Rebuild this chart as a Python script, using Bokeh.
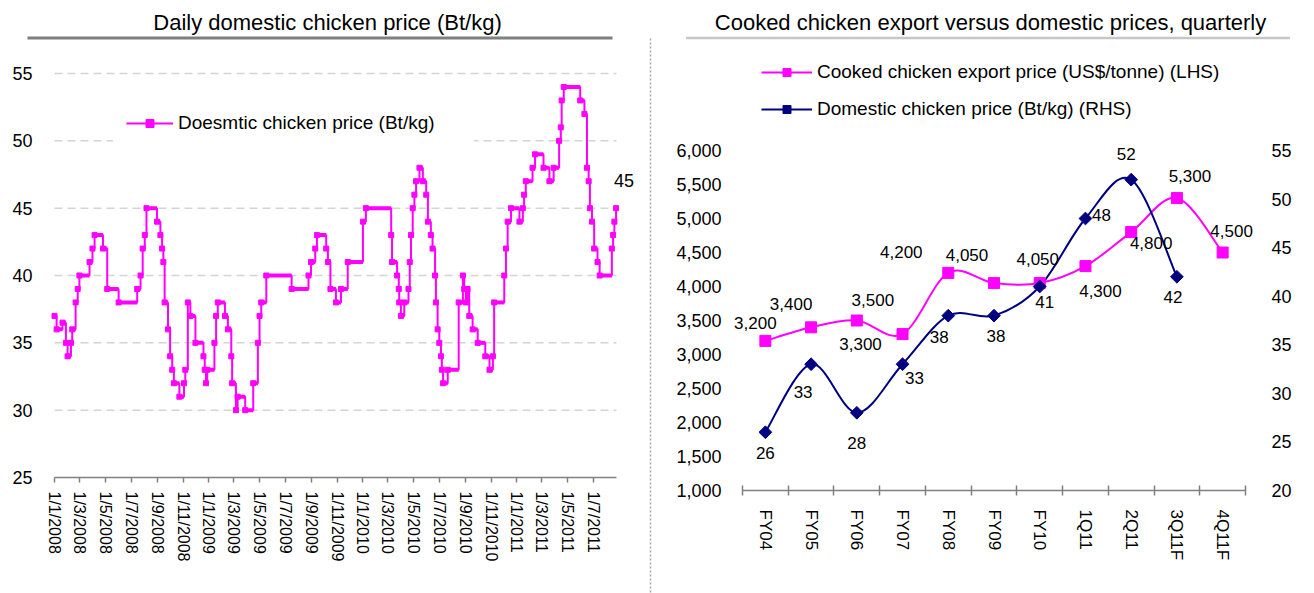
import math
import pandas as pd
from bokeh.plotting import figure
from bokeh.layouts import row
from bokeh.models import (Range1d, LinearAxis, FixedTicker, Legend, LegendItem, Label,
                          LabelSet, Arrow, ColumnDataSource, NumeralTickFormatter)
from bokeh.core.properties import value
from bokeh.embed import file_html
from bokeh.resources import INLINE

FONT = "Liberation Sans"
MAGENTA = "#FF00FF"
NAVY = "#000080"
AXIS_GREY = "#808080"

# ---------------- data: daily domestic chicken price (change points) ----------------
daily_dates = [
    "2008-01-01", "2008-01-06", "2008-01-20", "2008-01-28", "2008-02-01", "2008-02-09", "2008-02-12",
    "2008-02-20", "2008-02-25", "2008-02-29", "2008-03-24", "2008-03-31", "2008-04-05", "2008-04-25",
    "2008-05-05", "2008-06-01", "2008-07-15", "2008-07-23", "2008-07-28", "2008-08-02", "2008-08-06",
    "2008-08-31", "2008-09-08", "2008-09-12", "2008-09-15", "2008-09-18", "2008-09-26", "2008-10-01",
    "2008-10-06", "2008-10-10", "2008-10-23", "2008-11-03", "2008-11-06", "2008-11-12", "2008-11-18",
    "2008-11-30", "2008-12-19", "2008-12-22", "2008-12-25", "2008-12-28", "2009-01-14", "2009-01-18",
    "2009-01-22", "2009-02-08", "2009-02-15", "2009-02-23", "2009-02-25", "2009-03-06", "2009-03-10",
    "2009-03-28", "2009-04-16", "2009-04-27", "2009-05-01", "2009-05-05", "2009-05-17", "2009-07-16",
    "2009-08-25", "2009-08-31", "2009-09-10", "2009-09-14", "2009-10-06", "2009-10-10", "2009-10-16",
    "2009-10-29", "2009-11-10", "2009-11-26", "2010-01-01", "2010-01-08", "2010-03-09", "2010-03-11",
    "2010-03-23", "2010-03-27", "2010-03-28", "2010-04-01", "2010-04-09", "2010-04-19", "2010-04-22",
    "2010-04-25", "2010-04-29", "2010-05-03", "2010-05-07", "2010-05-15", "2010-05-23", "2010-05-31",
    "2010-06-04", "2010-06-11", "2010-06-15", "2010-06-21", "2010-06-23", "2010-06-27", "2010-07-01",
    "2010-07-05", "2010-07-07", "2010-07-10", "2010-07-21", "2010-08-16", "2010-08-26", "2010-08-29",
    "2010-09-02", "2010-09-06", "2010-09-10", "2010-09-18", "2010-09-30", "2010-10-18", "2010-10-28",
    "2010-11-05", "2010-11-08", "2010-12-02", "2010-12-06", "2010-12-10", "2010-12-18", "2011-01-07",
    "2011-01-15", "2011-01-18", "2011-01-22", "2011-02-07", "2011-02-13", "2011-03-05", "2011-03-19",
    "2011-03-29", "2011-04-11", "2011-04-15", "2011-04-17", "2011-04-22", "2011-05-31", "2011-06-10",
    "2011-06-16", "2011-06-20", "2011-06-23", "2011-06-28", "2011-07-03", "2011-07-11", "2011-07-16",
    "2011-08-14", "2011-08-17", "2011-08-20", "2011-08-24",
]
daily_prices = [
    37, 36, 36.5, 35, 34, 35, 36,
    38, 39, 40, 41, 42, 43, 42,
    39, 38, 39, 40, 42, 43, 45,
    44, 43, 42, 41, 38, 36, 34,
    33, 32, 31, 32, 33, 38, 37,
    35, 34, 33, 32, 33, 35, 37,
    38, 37, 36, 34, 32, 30, 31,
    30, 32, 35, 37, 38, 40, 39,
    40, 41, 42, 43, 42, 41, 39,
    38, 39, 41, 44, 45, 43, 41,
    40, 39, 38, 37, 38, 39, 41,
    43, 45, 46, 47, 48, 47, 46,
    44, 43, 42, 40, 38, 36, 35,
    34, 33, 32, 33, 38, 40, 39,
    38, 39, 37, 36, 35, 34, 33,
    34, 38, 40, 42, 44, 45, 44,
    45, 46, 47, 48, 49, 48, 47,
    48, 50, 51, 53, 54, 53, 52,
    48, 47, 45, 44, 42, 41, 40,
    42, 43, 44, 45,
]
daily_tick_dates = [
    "2008-01-01", "2008-03-01", "2008-05-01", "2008-07-01", "2008-09-01", "2008-11-01",
    "2009-01-01", "2009-03-01", "2009-05-01", "2009-07-01", "2009-09-01", "2009-11-01",
    "2010-01-01", "2010-03-01", "2010-05-01", "2010-07-01", "2010-09-01", "2010-11-01",
    "2011-01-01", "2011-03-01", "2011-05-01", "2011-07-01",
]
daily_axis_end = "2011-08-25"
daily_y_ticks = [25, 30, 35, 40, 45, 50, 55]

# ---------------- data: quarterly export vs domestic ----------------
quarter_labels = ["FY04", "FY05", "FY06", "FY07", "FY08", "FY09", "FY10", "1Q11", "2Q11", "3Q11F", "4Q11F"]
export_price = [3200, 3400, 3500, 3300, 4200, 4050, 4050, 4300, 4800, 5300, 4500]
domestic_price = [26, 33, 28, 33, 38, 38, 41, 48, 52, 42]
lhs_ticks = [1000, 1500, 2000, 2500, 3000, 3500, 4000, 4500, 5000, 5500, 6000]
rhs_ticks = [20, 25, 30, 35, 40, 45, 50, 55]

# label placement offsets (screen px: dx right, dy up)
export_label_dx = [-10, -20, 16, -42, -47, -27, -2, 15, 20, 13, 9]
export_label_dy = [18, 23, 21, -10, 21, 28, 24, -25, -11, 22, 22]
domestic_label_dx = [0, -8, 0, 12, -9, 2, 5, 16, -5, -4]
domestic_label_dy = [-21, -28, -30, -14, -21, -20, -15, 4, 26, -20]

# ---------------- page layout (pixels) ----------------
PAGE_H = 593
W1 = 652
W2 = 662
F1_LEFT, F1_RIGHT, F1_TOP, F1_BOTTOM = 54, 616, 73, 477
F2_LEFT, F2_RIGHT, F2_TOP, F2_BOTTOM = 742, 1245, 150, 490


def bare_figure(width, x_range, y_range):
    p = figure(width=width, height=PAGE_H, output_backend="svg", toolbar_location=None,
               x_range=x_range, y_range=y_range, min_border=0)
    p.title.visible = False
    p.outline_line_color = None
    p.background_fill_color = "white"
    p.border_fill_color = "white"
    p.grid.visible = False
    return p

# =============== LEFT FIGURE ===============
origin = pd.Timestamp("2008-01-01")
days = [int(v) for v in (pd.to_datetime(daily_dates) - origin).days]
tick_ts = pd.to_datetime(daily_tick_dates)
tick_days = [int(v) for v in (tick_ts - origin).days]
tick_text = {d: f"{t.day}/{t.month}/{t.year}" for d, t in zip(tick_days, tick_ts)}
x_end1 = float((pd.Timestamp(daily_axis_end) - origin).days)
ymin1, ymax1 = daily_y_ticks[0], daily_y_ticks[-1]

ppd = (F1_RIGHT - F1_LEFT) / x_end1
ppu1 = (F1_BOTTOM - F1_TOP) / (ymax1 - ymin1)

def dx1(px):
    return (px - F1_LEFT) / ppd

def dy1(py):
    return ymax1 - (py - F1_TOP) / ppu1

p1 = bare_figure(W1, Range1d(dx1(0), dx1(W1)), Range1d(dy1(PAGE_H), dy1(0)))

grid_vals = daily_y_ticks[1:]
p1.segment(x0=[0] * len(grid_vals), x1=[x_end1] * len(grid_vals), y0=grid_vals, y1=grid_vals,
           line_color="#D4D4D4", line_width=1.5, line_dash="8 5")

ya = p1.yaxis[0]
ya.fixed_location = 0
ya.ticker = FixedTicker(ticks=daily_y_ticks)
ya.axis_line_color = None
ya.major_tick_line_color = None
ya.minor_tick_line_color = None
ya.major_label_text_font = FONT
ya.major_label_text_font_size = "18px"
ya.major_label_text_color = "black"
ya.major_label_standoff = 16

xa = p1.xaxis[0]
xa.fixed_location = ymin1
xa.bounds = (0, x_end1)
xa.ticker = FixedTicker(ticks=tick_days)
xa.major_label_overrides = tick_text
xa.major_label_orientation = "vertical"
xa.axis_line_color = AXIS_GREY
xa.axis_line_width = 1.5
xa.major_tick_line_color = AXIS_GREY
xa.major_tick_line_width = 1.5
xa.major_tick_out = 5
xa.major_tick_in = 0
xa.minor_tick_line_color = None
xa.major_label_text_font = FONT
xa.major_label_text_font_size = "16px"
xa.major_label_text_color = "black"
xa.major_label_standoff = 9

p1.segment(x0=days[:-1], y0=daily_prices[:-1], x1=days[1:], y1=daily_prices[:-1],
           line_color=MAGENTA, line_width=4)
step_r = p1.step(days, daily_prices, mode="after", line_color=MAGENTA, line_width=2)
sc1 = p1.scatter(days, daily_prices, marker="square", size=5, color=MAGENTA)

leg1 = Legend(items=[LegendItem(label="Doesmtic chicken price (Bt/kg)", renderers=[step_r, sc1])],
              location=(113, PAGE_H - 147), padding=12, spacing=0, margin=0,
              glyph_width=47, glyph_height=20, label_height=20, label_width=283, label_standoff=5,
              label_text_font=FONT, label_text_font_size="19px", label_text_color="black",
              background_fill_color="white", background_fill_alpha=1.0,
              border_line_color="white", border_line_width=1)
p1.add_layout(leg1)

p1.add_layout(Label(x=days[-1], y=daily_prices[-1], text=f"{daily_prices[-1]:g}", x_offset=8, y_offset=28,
                    text_align="center", text_baseline="middle", text_font=FONT,
                    text_font_size="18px", text_color="black"))

p1.add_layout(Label(x=dx1(327), y=dy1(22), text="Daily domestic chicken price (Bt/kg)",
                    text_align="center", text_baseline="middle", text_font=FONT,
                    text_font_size="22px", text_color="black"))
p1.add_layout(Arrow(start=None, end=None, x_start=dx1(27), y_start=dy1(37.5), x_end=dx1(612), y_end=dy1(37.5),
                    line_color="#7F7F7F", line_width=3))
p1.add_layout(Arrow(start=None, end=None, x_start=dx1(650), y_start=dy1(38), x_end=dx1(650), y_end=dy1(PAGE_H),
                    line_color="#A6A6A6", line_width=1.5, line_dash="2 2"))

# =============== RIGHT FIGURE ===============
X2_0 = W1
ncat = len(quarter_labels)
ppc = (F2_RIGHT - F2_LEFT) / ncat
ppl = (F2_BOTTOM - F2_TOP) / (lhs_ticks[-1] - lhs_ticks[0])
ppr = (F2_BOTTOM - F2_TOP) / (rhs_ticks[-1] - rhs_ticks[0])

def dx2(px):
    return 0.5 + (px - F2_LEFT) / ppc

def dy2(py):
    return lhs_ticks[-1] - (py - F2_TOP) / ppl

def dyr(py):
    return rhs_ticks[-1] - (py - F2_TOP) / ppr

p2 = bare_figure(W2, Range1d(dx2(X2_0), dx2(X2_0 + W2)), Range1d(dy2(PAGE_H), dy2(0)))
p2.extra_y_ranges = {"rhs": Range1d(dyr(PAGE_H), dyr(0))}

ly = p2.yaxis[0]
ly.fixed_location = 0.5
ly.ticker = FixedTicker(ticks=lhs_ticks)
ly.formatter = NumeralTickFormatter(format="0,0")
ly.axis_line_color = None
ly.major_tick_line_color = None
ly.minor_tick_line_color = None
ly.major_label_text_font = FONT
ly.major_label_text_font_size = "18px"
ly.major_label_text_color = "black"
ly.major_label_standoff = 15

ry = LinearAxis(y_range_name="rhs", ticker=FixedTicker(ticks=rhs_ticks), fixed_location=ncat + 0.5)
ry.axis_line_color = None
ry.major_tick_line_color = None
ry.minor_tick_line_color = None
ry.major_label_text_font = FONT
ry.major_label_text_font_size = "18px"
ry.major_label_text_color = "black"
ry.major_label_standoff = 20
p2.add_layout(ry, "right")

cx = list(range(1, ncat + 1))
bx = p2.xaxis[0]
bx.fixed_location = lhs_ticks[0]
bx.bounds = (0.5, ncat + 0.5)
bx.ticker = FixedTicker(ticks=cx, minor_ticks=[c - 0.5 for c in cx] + [ncat + 0.5])
bx.major_label_overrides = {c: lab for c, lab in zip(cx, quarter_labels)}
bx.major_label_orientation = "vertical"
bx.axis_line_color = AXIS_GREY
bx.axis_line_width = 1.5
bx.major_tick_line_color = None
bx.major_tick_out = 0
bx.major_tick_in = 0
bx.minor_tick_line_color = AXIS_GREY
bx.minor_tick_line_width = 1.5
bx.minor_tick_out = 5
bx.minor_tick_in = 5
bx.major_label_text_font = FONT
bx.major_label_text_font_size = "17px"
bx.major_label_text_color = "black"
bx.major_label_standoff = 14


def smooth_segments(xs, ys):
    n = len(xs)
    seg = dict(x0=[], y0=[], x1=[], y1=[], cx0=[], cy0=[], cx1=[], cy1=[])
    for i in range(n - 1):
        ip = max(i - 1, 0)
        i2 = min(i + 2, n - 1)
        seg["x0"].append(xs[i]); seg["y0"].append(ys[i])
        seg["x1"].append(xs[i + 1]); seg["y1"].append(ys[i + 1])
        seg["cx0"].append(xs[i] + (xs[i + 1] - xs[ip]) / 6)
        seg["cy0"].append(ys[i] + (ys[i + 1] - ys[ip]) / 6)
        seg["cx1"].append(xs[i + 1] - (xs[i2] - xs[i]) / 6)
        seg["cy1"].append(ys[i + 1] - (ys[i2] - ys[i]) / 6)
    return seg

exp_x = cx[:len(export_price)]
dom_x = cx[:len(domestic_price)]
exp_bez = p2.bezier(source=ColumnDataSource(smooth_segments(exp_x, export_price)),
                    x0="x0", y0="y0", x1="x1", y1="y1", cx0="cx0", cy0="cy0", cx1="cx1", cy1="cy1",
                    line_color=MAGENTA, line_width=2)
dom_bez = p2.bezier(source=ColumnDataSource(smooth_segments(dom_x, domestic_price)),
                    x0="x0", y0="y0", x1="x1", y1="y1", cx0="cx0", cy0="cy0", cx1="cx1", cy1="cy1",
                    line_color=NAVY, line_width=2, y_range_name="rhs")
exp_sc = p2.scatter(exp_x, export_price, marker="square", size=11, color=MAGENTA)
dom_sc = p2.scatter(dom_x, domestic_price, marker="square", size=9, angle=math.pi / 4,
                    color=NAVY, y_range_name="rhs")

exp_src = ColumnDataSource(dict(x=exp_x, y=export_price, t=[f"{v:,}" for v in export_price],
                                dx=export_label_dx, dy=export_label_dy))
p2.add_layout(LabelSet(source=exp_src, x="x", y="y", text="t", x_offset="dx", y_offset="dy",
                       text_align="center", text_baseline="middle", text_font=value(FONT),
                       text_font_size="17px", text_color="black"))
dom_src = ColumnDataSource(dict(x=dom_x, y=domestic_price, t=[f"{v}" for v in domestic_price],
                                dx=domestic_label_dx, dy=domestic_label_dy))
p2.add_layout(LabelSet(source=dom_src, x="x", y="y", text="t", x_offset="dx", y_offset="dy",
                       y_range_name="rhs", text_align="center", text_baseline="middle",
                       text_font=value(FONT), text_font_size="17px", text_color="black"))

leg2 = Legend(items=[LegendItem(label="Cooked chicken export price (US$/tonne) (LHS)", renderers=[exp_bez, exp_sc]),
                     LegendItem(label="Domestic chicken price (Bt/kg) (RHS)", renderers=[dom_bez, dom_sc])],
              location=(761 - X2_0, PAGE_H - 120), padding=0, spacing=15, margin=0,
              glyph_width=51, glyph_height=20, label_height=20, label_standoff=5,
              label_text_font=FONT, label_text_font_size="19px", label_text_color="black",
              background_fill_alpha=0.0, border_line_color=None)
p2.add_layout(leg2)

p2.add_layout(Label(x=dx2(990), y=dy2(22), text="Cooked chicken export versus domestic prices, quarterly",
                    text_align="center", text_baseline="middle", text_font=FONT,
                    text_font_size="22px", text_color="black"))
p2.add_layout(Arrow(start=None, end=None, x_start=dx2(686), y_start=dy2(37.5), x_end=dx2(1290), y_end=dy2(37.5),
                    line_color="#8C8C8C", line_width=2.5, line_dash="1 1"))

layout = row(p1, p2)
open("out.html", "w").write(file_html(layout, INLINE))
